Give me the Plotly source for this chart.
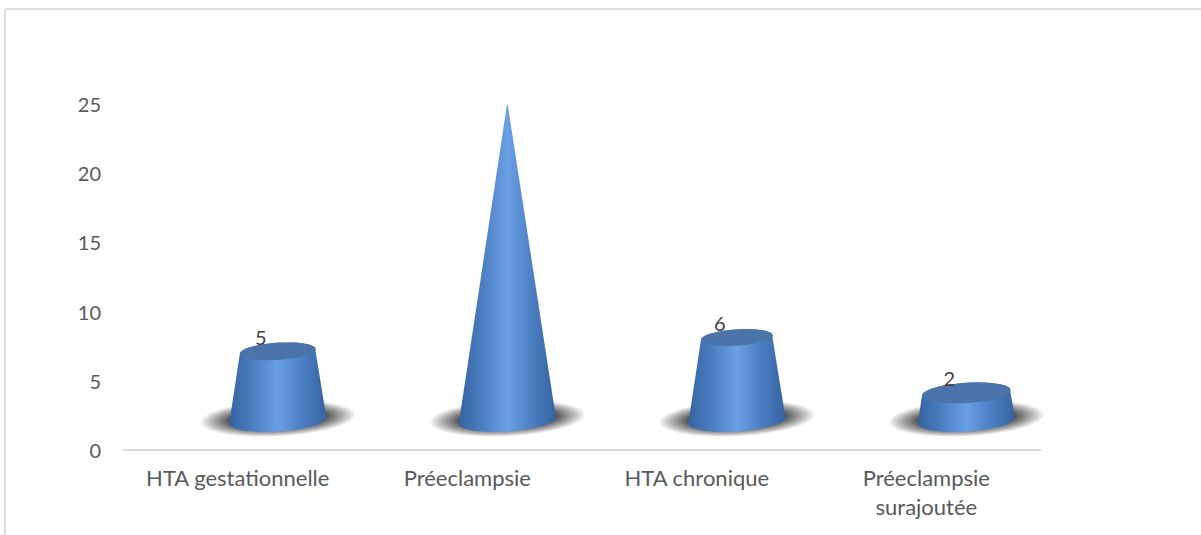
import numpy as np
import plotly.graph_objects as go

categories = ["HTA gestationnelle", "Préeclampsie", "HTA chronique", "Préeclampsie<br>surajoutée"]
values = [5, 23, 6, 2]
y_ticks = [0, 5, 10, 15, 20, 25]

# Pseudo-3D projection, in axis units
DEPTH_X = 0.1745
DEPTH_Y = 2.2
BASE_RX = 0.2115
Y_PER_X = 16.57      # px ratio of one category step to one value unit
ELLIPSE_RATIO = 0.23
TILT = 1.0
PEAK = max(values)

T = np.linspace(0, 2 * np.pi, 90)


def ellipse(cx, cy, rx, t=T):
    x = rx * np.cos(t)
    y = rx * ELLIPSE_RATIO * Y_PER_X * np.sin(t) + TILT * x
    return cx + x, cy + y


fig = go.Figure()

# Soft floor shadows: stacked translucent ellipses, thinning towards the rim
LAYERS = 30
for i, v in enumerate(values):
    cx, cy = i + DEPTH_X, DEPTH_Y + 0.15
    for k in range(LAYERS):
        f = (1 - k / LAYERS) ** 1.8
        rx = BASE_RX * 1.6 * (0.6 + 0.4 * f)
        ry = 1.3 * (0.55 + 0.45 * f)
        sx = cx + rx * np.cos(T)
        sy = cy + ry * np.sin(T) + 0.8 * rx * np.cos(T)
        fig.add_trace(go.Scatter(x=sx, y=sy, mode="lines", fill="toself", line_width=0,
                                 fillcolor="rgba(0,0,0,0.045)", hoverinfo="skip", showlegend=False))

# Cones, cut at each value along a cone that peaks at the largest value
for i, v in enumerate(values):
    cx, y0 = i + DEPTH_X, DEPTH_Y
    y1 = y0 + v
    r1 = BASE_RX * (1 - v / PEAK)
    bx, by = ellipse(cx, y0, BASE_RX, np.linspace(np.pi, 2 * np.pi, 50))
    tx, ty = ellipse(cx, y1, r1, np.linspace(0, np.pi, 30))
    fig.add_trace(go.Scatter(
        x=np.r_[bx, tx], y=np.r_[by, ty], mode="lines", fill="toself", line_width=0,
        fillgradient=dict(type="horizontal", colorscale=[
            [0, "#36639f"], [0.25, "#4c7fc2"], [0.5, "#6b9fe4"], [0.75, "#4c7fc2"], [1, "#36639f"]]),
        hoverinfo="skip", showlegend=False))
    if r1 > 0:
        ex, ey = ellipse(cx, y1, r1)
        fig.add_trace(go.Scatter(x=ex, y=ey, mode="lines", fill="toself", line_width=0,
                                 fillcolor="#4a74aa", hoverinfo="skip", showlegend=False))

# Value labels
fig.add_trace(go.Scatter(
    x=[i + 0.1 for i in range(len(values))], y=[v + 3.05 for v in values],
    mode="text", text=[str(v) for v in values],
    textfont=dict(family="Lato", size=20, color="#404040"),
    cliponaxis=False, hoverinfo="skip", showlegend=False))

# The x range runs past the last category so the rightmost shadow is not clipped;
# the baseline itself stops at the end of the category band.
PLOT_W, PLOT_H = 964, 346
BORDER = "#dcdcdc"
fig.update_layout(
    width=1201, height=535, autosize=False,
    margin=dict(l=123, r=114, t=105, b=84),
    paper_bgcolor="white", plot_bgcolor="white",
    font=dict(family="Lato", size=22, color="#595959"),
    xaxis=dict(range=[-0.5, 3.7], tickmode="array", tickvals=list(range(len(categories))),
               ticktext=categories, showgrid=False, zeroline=False, showline=False,
               ticks="", ticklabelstandoff=12, fixedrange=True),
    yaxis=dict(range=[0, 25], tickvals=y_ticks, tickfont=dict(size=20), showgrid=False, zeroline=False,
               showline=False, ticks="", ticklabelstandoff=21, fixedrange=True),
    shapes=[
        dict(type="line", xref="x", yref="paper", x0=-0.5, x1=3.5, y0=1 / PLOT_H, y1=1 / PLOT_H,
             layer="below", line=dict(color="#d9d9d9", width=2)),
        dict(type="line", xref="paper", yref="paper", x0=-118 / PLOT_W, x1=1078 / PLOT_W,
             y0=1 + 96 / PLOT_H, y1=1 + 96 / PLOT_H, line=dict(color=BORDER, width=2)),
        dict(type="line", xref="paper", yref="paper", x0=-118 / PLOT_W, x1=-118 / PLOT_W,
             y0=1 + 96 / PLOT_H, y1=-84 / PLOT_H, line=dict(color=BORDER, width=2)),
    ],
)

fig.write_html("out.html", config={"displayModeBar": False})
